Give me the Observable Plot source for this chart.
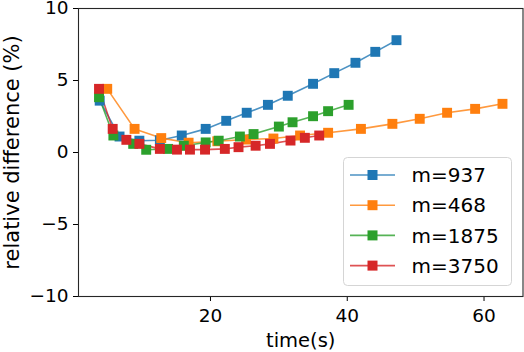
<!DOCTYPE html>
<html>
<head>
<meta charset="utf-8">
<script src="https://cdn.jsdelivr.net/npm/d3@7"></script>
<script src="https://cdn.jsdelivr.net/npm/@observablehq/plot@0.6"></script>
<style>
  html, body { margin: 0; padding: 0; background: #fff; }
</style>
</head>
<body>
<div id="chart"></div>
<script>
const seriesNames = ["m=937", "m=468", "m=1875", "m=3750"];
const seriesColors = ["#1f77b4", "#ff7f0e", "#2ca02c", "#d62728"];

const t937 = [3.8, 6.7, 9.6, 12.6, 15.8, 19.3, 22.3, 25.3, 28.4, 31.3, 35.0, 38.1, 41.2, 44.1, 47.2];
const v937 = [3.6, 1.11, 0.82, 0.85, 1.18, 1.64, 2.2, 2.76, 3.31, 3.94, 4.77, 5.51, 6.23, 6.99, 7.8];

const t468 = [4.9, 8.9, 12.8, 16.8, 21.0, 25.2, 29.2, 33.1, 37.2, 42.0, 46.6, 50.6, 54.6, 58.7, 62.7];
const v468 = [4.42, 1.64, 1.0, 0.68, 0.78, 0.9, 0.97, 1.18, 1.37, 1.64, 1.99, 2.34, 2.76, 3.03, 3.38];

const t1875 = [3.7, 5.8, 8.7, 10.6, 13.8, 16.1, 19.3, 21.2, 24.3, 26.3, 30.0, 32.0, 35.0, 37.2, 40.2];
const v1875 = [3.84, 1.18, 0.6, 0.19, 0.25, 0.47, 0.7, 0.82, 1.11, 1.28, 1.8, 2.1, 2.52, 2.87, 3.31];

const t3750 = [3.7, 5.7, 7.7, 9.6, 12.6, 15.1, 17.0, 19.2, 22.1, 24.1, 26.6, 28.7, 31.7, 33.8, 35.9];
const v3750 = [4.42, 1.64, 0.88, 0.6, 0.25, 0.2, 0.2, 0.2, 0.25, 0.37, 0.47, 0.6, 0.83, 1.02, 1.18];

const xTicks = [20, 40, 60];
const yTicks = [-10, -5, 0, 5, 10];
const xLabel = "time(s)";
const yLabel = "relative difference (%)";

const times = [t937, t468, t1875, t3750];
const values = [v937, v468, v1875, v3750];
const data = seriesNames.flatMap((name, i) =>
  times[i].map((t, j) => ({series: name, t, v: values[i][j]}))
);

const font = "DejaVu Sans";
const W = 524, H = 352;
const mL = 78, mR = 1.5, mT = 8, mB = 56;

const svg = Plot.plot({
  width: W,
  height: H,
  marginLeft: mL,
  marginRight: mR,
  marginTop: mT,
  marginBottom: mB,
  style: {fontFamily: font, fontSize: "18.5px", color: "#000", background: "#fff", overflow: "visible"},
  x: {domain: [0.7, 65.7]},
  y: {domain: [-10, 10]},
  color: {domain: seriesNames, range: seriesColors},
  marks: [
    Plot.axisX({ticks: xTicks, tickSize: 5, tickPadding: 7, fontSize: 18.5, label: null}),
    Plot.axisY({ticks: yTicks, tickSize: 5, tickPadding: 5, fontSize: 18.5, label: null}),
    Plot.axisX({ticks: [], tickSize: 0, label: xLabel, labelAnchor: "center", labelArrow: "none", labelOffset: 50, fontSize: 19.5}),
    Plot.axisY({ticks: [], tickSize: 0, label: yLabel, labelAnchor: "center", labelArrow: "none", labelOffset: 74, fontSize: 21}),
    Plot.frame({stroke: "#262626", strokeWidth: 1.1}),
    Plot.line(data, {x: "t", y: "v", z: "series", stroke: "series", strokeWidth: 1.6, strokeOpacity: 0.8}),
    Plot.dot(data, {x: "t", y: "v", fill: "series", symbol: "square", r: 5.6, stroke: "none"})
  ]
});

document.getElementById("chart").appendChild(svg);

// legend (matplotlib style, lower right)
const s = d3.select(svg);
const lg = s.append("g").attr("font-family", font).attr("font-size", 20).attr("text-anchor", "start");
lg.append("rect")
  .attr("x", 343.5).attr("y", 157.5).attr("width", 168).attr("height", 128)
  .attr("rx", 4).attr("fill", "#fff").attr("fill-opacity", 0.8)
  .attr("stroke", "#d5d5d5").attr("stroke-width", 1);
seriesNames.forEach((name, i) => {
  const cy = 175 + i * 30.2;
  lg.append("line").attr("x1", 350).attr("x2", 395).attr("y1", cy).attr("y2", cy)
    .attr("stroke", seriesColors[i]).attr("stroke-width", 1.6).attr("stroke-opacity", 0.8);
  lg.append("rect").attr("x", 372.5 - 5).attr("y", cy - 5).attr("width", 10).attr("height", 10)
    .attr("fill", seriesColors[i]);
  lg.append("text").attr("x", 411.5).attr("y", cy).attr("dy", "0.36em")
    .attr("text-anchor", "start").attr("fill", "#000").text(name);
});
</script>
</body>
</html>
